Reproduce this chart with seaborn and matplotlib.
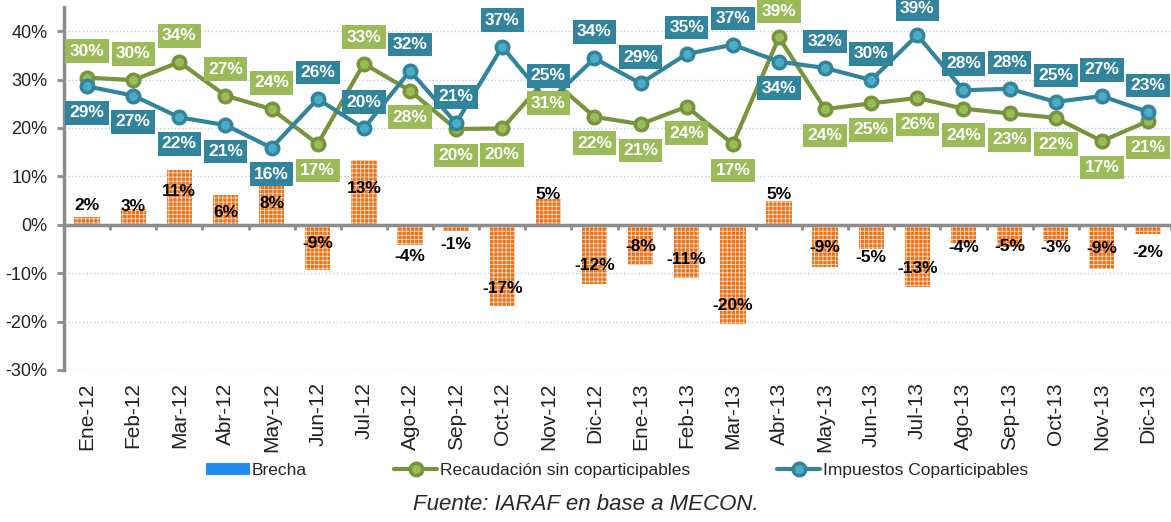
import numpy as np
import pandas as pd
import matplotlib
matplotlib.use('Agg')
import matplotlib.pyplot as plt
import seaborn as sns
from matplotlib.patches import Patch
from matplotlib.lines import Line2D

# Datos (en %)
meses = ['Ene-12', 'Feb-12', 'Mar-12', 'Abr-12', 'May-12', 'Jun-12', 'Jul-12', 'Ago-12',
         'Sep-12', 'Oct-12', 'Nov-12', 'Dic-12', 'Ene-13', 'Feb-13', 'Mar-13', 'Abr-13',
         'May-13', 'Jun-13', 'Jul-13', 'Ago-13', 'Sep-13', 'Oct-13', 'Nov-13', 'Dic-13']
recaudacion = [30.4, 29.9, 33.6, 26.7, 23.9, 16.7, 33.3, 27.7, 19.8, 19.9, 30.6, 22.3,
               20.8, 24.4, 16.7, 38.7, 23.9, 25.1, 26.2, 24.0, 23.0, 22.1, 17.3, 21.4]
impuestos = [28.6, 26.7, 22.2, 20.6, 15.9, 26.0, 19.9, 31.8, 21.0, 36.8, 25.3, 34.4,
             29.2, 35.3, 37.2, 33.7, 32.4, 29.9, 39.2, 27.8, 28.1, 25.4, 26.6, 23.3]
brecha = [1.6, 3.2, 11.4, 6.2, 8.0, -9.3, 13.4, -4.2, -1.2, -16.8, 5.3, -12.2,
          -8.3, -10.9, -20.4, 4.9, -8.7, -4.9, -12.8, -3.7, -4.6, -3.4, -9.1, -1.8]

# posición de las etiquetas (1 arriba, -1 abajo) y altura de las etiquetas de la brecha
pos_rec = [1, 1, 1, 1, 1, -1, 1, -1, -1, -1, -1, -1,
           -1, -1, -1, 1, -1, -1, -1, -1, -1, -1, -1, -1]
pos_imp = [-1, -1, -1, -1, -1, 1, 1, 1, 1, 1, 1, 1,
           1, 1, 1, -1, 1, 1, 1, 1, 1, 1, 1, 1]
brecha_lbl_y = [3.9, 3.7, 6.8, 2.5, 4.5, -3.8, 7.6, -6.6, -4.1, -13.2, 6.2, -8.5,
                -4.5, -7.2, -16.7, 6.2, -4.7, -6.8, -9.1, -4.7, -4.5, -4.7, -5.0, -5.8]

df = pd.DataFrame({'Mes': meses, 'Recaudacion': recaudacion,
                   'Impuestos': impuestos, 'Brecha': brecha})

verde_linea, verde_claro = '#77933C', '#9BBB59'
azul_linea, azul_claro = '#31849B', '#4BACC6'
naranja = '#E8731A'
gris = '#8C8C8C'

sns.set_style('white')
plt.rcParams['font.family'] = ['Liberation Sans', 'DejaVu Sans']
plt.rcParams['hatch.linewidth'] = 0.6

fig = plt.figure(figsize=(11.71, 5.22), dpi=100)
ax = fig.add_axes([0.0547, 0.2912, 0.9453, 0.6954])

# Barras de la brecha
sns.barplot(data=df, x='Mes', y='Brecha', color=naranja, saturation=1, width=0.55,
            hatch='++++', edgecolor='#FADBC3', linewidth=0, ax=ax, zorder=2)

# Líneas
sns.pointplot(data=df, x='Mes', y='Recaudacion', color=verde_linea, errorbar=None,
              markers='o', markersize=9, linewidth=3, markerfacecolor=verde_claro,
              markeredgecolor=verde_linea, markeredgewidth=2.5, ax=ax, zorder=3)
sns.pointplot(data=df, x='Mes', y='Impuestos', color=azul_linea, errorbar=None,
              markers='o', markersize=9, linewidth=3, markerfacecolor=azul_claro,
              markeredgecolor=azul_linea, markeredgewidth=2.5, ax=ax, zorder=3)

# Eje en cero con marcas
ax.axhline(0, color=gris, lw=2.5, zorder=2.5)
ax.vlines(np.arange(len(meses)) + 0.5, -1.1, 0, color=gris, lw=2, zorder=2.5)

# Etiquetas
for i, v in enumerate(brecha):
    ax.text(i, brecha_lbl_y[i], f'{v:.0f}%', ha='center', va='center', fontsize=12.5,
            fontweight='bold', color='black', zorder=4)
for i, v in enumerate(recaudacion):
    ax.annotate(f'{v:.0f}%', (i, v), xytext=(0, 19 * pos_rec[i]), textcoords='offset points',
                ha='center', va='center', color='white', fontsize=12.5, fontweight='bold',
                bbox=dict(boxstyle='square,pad=0.25', fc=verde_claro, ec='none'), zorder=5)
for i, v in enumerate(impuestos):
    ax.annotate(f'{v:.0f}%', (i, v), xytext=(0, 19 * pos_imp[i]), textcoords='offset points',
                ha='center', va='center', color='white', fontsize=12.5, fontweight='bold',
                bbox=dict(boxstyle='square,pad=0.25', fc=azul_linea, ec='none'), zorder=5)

# Ejes
ax.set_xlim(-0.5, len(meses) - 0.5)
ax.set_ylim(-30, 45)
yt = list(range(-30, 41, 10))
ax.set_yticks(yt)
ax.set_yticklabels([f'{t}%' for t in yt], fontsize=13, color='#222222')
ax.set_xticks(range(len(meses)))
ax.set_xticklabels(meses, rotation=90, fontsize=15, color='#222222')
ax.tick_params(axis='x', length=0, pad=9)
ax.tick_params(axis='y', length=5, width=2, color=gris, pad=7, left=True)
ax.set_xlabel('')
ax.set_ylabel('')
for s in ['top', 'right', 'bottom']:
    ax.spines[s].set_visible(False)
ax.spines['left'].set_color(gris)
ax.spines['left'].set_linewidth(2.5)
ax.yaxis.grid(True, linestyle=':', color='#B9CDE5', lw=1)
ax.set_axisbelow(True)

# Leyenda
handles = [Patch(fc='#1E8FF0', ec='none'),
           Line2D([], [], color=verde_linea, lw=3, marker='o', ms=9, mfc=verde_claro,
                  mec=verde_linea, mew=2.5),
           Line2D([], [], color=azul_linea, lw=3, marker='o', ms=9, mfc=azul_claro,
                  mec=azul_linea, mew=2.5)]
labels = ['Brecha', 'Recaudación sin coparticipables', 'Impuestos Coparticipables']
fig.legend(handles, labels, loc='center', bbox_to_anchor=(0.527, 0.098), ncol=3,
           frameon=False, fontsize=12.5, columnspacing=5.0, handlelength=2.5,
           handletextpad=0.15)

fig.text(0.5, 0.033, 'Fuente: IARAF en base a MECON.', ha='center', va='center',
         fontsize=16, style='italic')

fig.savefig('out.png', dpi=100)
